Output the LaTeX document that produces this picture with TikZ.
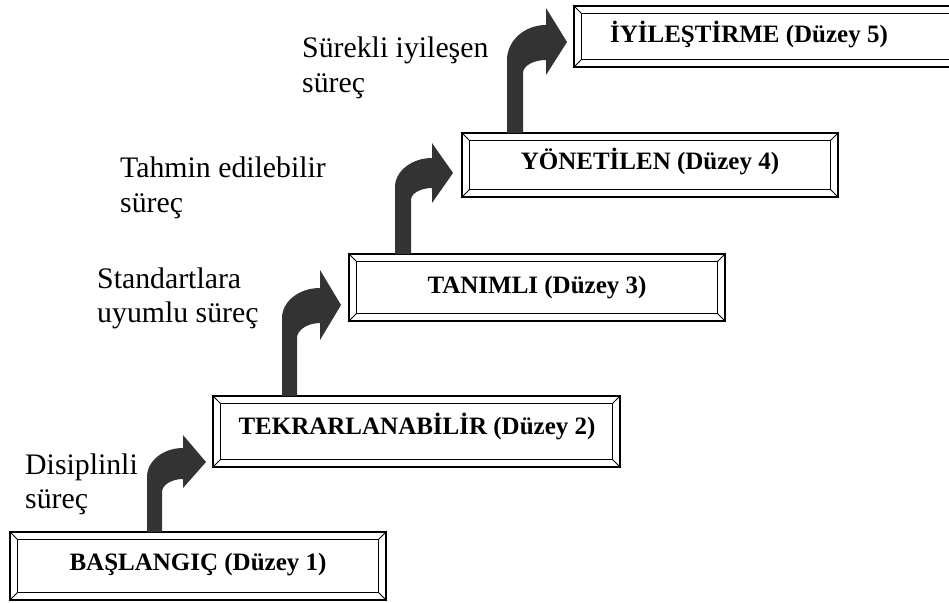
\documentclass[tikz,border=0pt]{standalone}
\usepackage{fontspec}
\setmainfont{Liberation Serif}
\definecolor{arrowgray}{RGB}{51,51,51}
\newcommand\levelbevel[1]{%
  \draw[bevelinner] ([shift={(8.5pt,8.5pt)}]#1.south west) rectangle ([shift={(-8.5pt,-8.5pt)}]#1.north east);
  \draw[beveldiag] (#1.south west) -- ([shift={(8.5pt,8.5pt)}]#1.south west);
  \draw[beveldiag] (#1.north west) -- ([shift={(8.5pt,-8.5pt)}]#1.north west);
  \draw[beveldiag] (#1.north east) -- ([shift={(-8.5pt,-8.5pt)}]#1.north east);
  \draw[beveldiag] (#1.south east) -- ([shift={(-8.5pt,8.5pt)}]#1.south east);
}
\begin{document}
\begin{tikzpicture}[x=1pt,y=-1pt,
  levelbox/.style={draw=black, line width=1.9pt, line join=miter, inner sep=0pt, rectangle},
  bevelinner/.style={draw=black, line width=1.4pt, line join=miter},
  beveldiag/.style={draw=black, line width=0.8pt},
  boxtext/.style={anchor=base, inner sep=0pt, font=\fontsize{25}{30}\selectfont\bfseries},
  labeltext/.style={anchor=base west, inner sep=0pt, font=\fontsize{29.8}{34}\selectfont},
  stairarrow/.style={fill=arrowgray, draw=none}]
\useasboundingbox (0,0) rectangle (949,602);
\clip (0,0) rectangle (949,602);
\fill[white] (0,0) rectangle (949,602);

% boxes
\node[levelbox, minimum width=376pt, minimum height=68pt] (b1) at (198,566) {};
\node[levelbox, minimum width=407pt, minimum height=71pt] (b2) at (416.5,431.5) {};
\node[levelbox, minimum width=376pt, minimum height=67pt] (b3) at (537,287.5) {};
\node[levelbox, minimum width=376pt, minimum height=64pt] (b4) at (650,165) {};
\node[levelbox, minimum width=401pt, minimum height=61pt] (b5) at (774.5,36.5) {};
\levelbevel{b1}
\levelbevel{b2}
\levelbevel{b3}
\levelbevel{b4}
\levelbevel{b5}

% box texts
\node[boxtext] (t1) at (198,570) {BAŞLANGIÇ (Düzey 1)};
\node[boxtext] (t2) at (417,434) {TEKRARLANABİLİR (Düzey 2)};
\node[boxtext] (t3) at (537,293) {TANIMLI (Düzey 3)};
\node[boxtext] (t4) at (650,169) {YÖNETİLEN (Düzey 4)};
\node[boxtext] (t5) at (749,42) {İYİLEŞTİRME (Düzey 5)};

% arrows
\fill[stairarrow] (147,532) -- (147,477) .. controls (147,461) and (163,448) .. (183,448)
  -- (183,435) -- (206,462) -- (183,488) -- (183,479)
  .. controls (171.5,479) and (162,485) .. (162,492) -- (162,532) -- cycle;
\fill[stairarrow] (282,396) -- (282,318) .. controls (282,301.5) and (299,288) .. (320,288)
  -- (320,270) -- (341,305) -- (320,340) -- (320,323)
  .. controls (307.5,323) and (297,330) .. (297,338) -- (297,396) -- cycle;
\fill[stairarrow] (395,254) -- (395,187) .. controls (395,171) and (412,158) .. (432,158)
  -- (432,143) -- (453,173) -- (432,203) -- (432,188)
  .. controls (420.5,188) and (411,193.4) .. (411,200) -- (411,254) -- cycle;
\fill[stairarrow] (507,133) -- (507,60) .. controls (507,40.75) and (524.5,25) .. (546,25)
  -- (546,8) -- (567,42) -- (546,75) -- (546,60)
  .. controls (533.4,60) and (523,65.85) .. (523,73) -- (523,133) -- cycle;

% labels
\node[labeltext] (l1a) at (25,474) {Disiplinli};
\node[labeltext] (l1b) at (25,508) {süreç};
\node[labeltext] (l2a) at (97,288) {Standartlara};
\node[labeltext] (l2b) at (97,322) {uyumlu süreç};
\node[labeltext] (l3a) at (120,177) {Tahmin edilebilir};
\node[labeltext] (l3b) at (120,212) {süreç};
\node[labeltext] (l4a) at (302,57) {Sürekli iyileşen};
\node[labeltext] (l4b) at (302,92) {süreç};
\end{tikzpicture}
\end{document}
